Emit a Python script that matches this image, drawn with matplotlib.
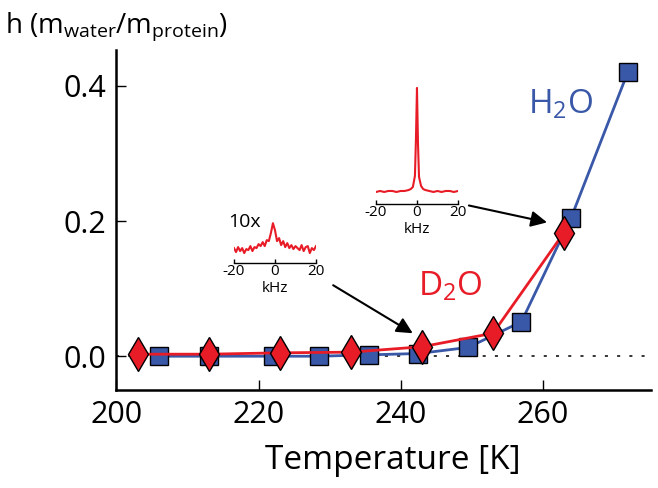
import numpy as np
import matplotlib
matplotlib.use("Agg")
import matplotlib.pyplot as plt

plt.rcParams['font.family'] = ['Open Sans', 'DejaVu Sans']
plt.rcParams['mathtext.fontset'] = 'custom'
plt.rcParams['mathtext.rm'] = 'Open Sans'
plt.rcParams['mathtext.it'] = 'Open Sans'
plt.rcParams['mathtext.default'] = 'regular'
plt.rcParams['axes.unicode_minus'] = False

# hydration vs temperature
t_h2o = [206, 213, 222, 228.5, 235.5, 242.5, 249.5, 257, 264, 272]
h_h2o = [0.0, 0.0, 0.0, 0.0, 0.002, 0.004, 0.013, 0.051, 0.205, 0.421]
t_d2o = [203, 213, 223, 233, 243, 253, 263]
h_d2o = [0.003, 0.003, 0.005, 0.006, 0.014, 0.034, 0.183]

# inset spectra (kHz, arbitrary intensity)
khz_broad = list(range(-20, 21))
spec_broad = [15, 11, 16, 12, 15, 10, 14, 13, 17, 12, 16, 15, 19, 17, 21, 17,
              23, 22, 30, 40, 33, 22, 25, 18, 22, 16, 20, 15, 18, 14, 17, 15,
              13, 18, 12, 16, 17, 10, 15, 13, 17]
khz_sharp = [-20, -18, -16, -14, -12, -10, -8, -6, -4, -3, -2, -1, -0.5, 0,
             0.5, 1, 2, 3, 4, 6, 8, 10, 12, 14, 16, 18, 20]
spec_sharp = [12, 13, 12, 13, 13, 12, 13, 13, 14, 15, 17, 28, 65, 116,
              60, 27, 18, 15, 14, 13, 12, 13, 12, 13, 13, 12, 13]

xticks = [200, 220, 240, 260]
yticks = [0.0, 0.2, 0.4]
inset_ticks = [-20, 0, 20]

blue = '#3a58a8'
red = '#e81c27'

fig = plt.figure(figsize=(6.58, 4.88), dpi=100)
ax = fig.add_axes([0.177, 0.2008, 0.812, 0.6967])

ax.axhline(0, color='black', lw=1.1, ls=(0, (2, 6)), zorder=1)
ax.plot(t_h2o, h_h2o, color=blue, lw=2, marker='s', ms=12.5,
        mfc=blue, mec='black', mew=1, zorder=3, clip_on=False)
ax.plot(t_d2o, h_d2o, color=red, lw=2, marker='d', ms=17,
        mfc=red, mec='black', mew=1, zorder=4, clip_on=False)

ax.set_xlim(200, 275.2)
ax.set_ylim(-0.05, 0.453)
ax.set_xticks(xticks)
ax.set_yticks(yticks)
ax.set_yticklabels(['%.1f' % v for v in yticks])
for s in ['top', 'right']:
    ax.spines[s].set_visible(False)
for s in ['left', 'bottom']:
    ax.spines[s].set_linewidth(1.8)
ax.tick_params(direction='in', length=7.5, width=1, labelsize=22, pad=7)
ax.set_xlabel('Temperature [K]', fontsize=24)
ax.xaxis.set_label_coords(0.518, -0.16)

fig.text(0.008, 0.934, 'h (m$_{water}$/m$_{protein}$)', fontsize=20,
         ha='left', va='baseline')
fig.text(0.802, 0.768, 'H$_2$O', fontsize=24, color=blue, ha='left', va='baseline')
fig.text(0.635, 0.395, 'D$_2$O', fontsize=24, color=red, ha='left', va='baseline')

# arrows from insets
arrow = dict(arrowstyle='-|>', color='black', lw=1.5, mutation_scale=24,
             shrinkA=0, shrinkB=0)
ax.annotate('', xy=(241.7, 0.034), xytext=(230.5, 0.105), arrowprops=arrow)
ax.annotate('', xy=(260.6, 0.198), xytext=(249.6, 0.223), arrowprops=arrow)


def inset(rect, x, y, ymax):
    a = fig.add_axes(rect)
    a.plot(x, y, color=red, lw=1.5)
    a.set_xlim(-20, 20)
    a.set_ylim(0, ymax)
    for s in ['top', 'right', 'left']:
        a.spines[s].set_visible(False)
    a.spines['bottom'].set_linewidth(1)
    a.set_yticks([])
    a.set_xticks(inset_ticks)
    a.tick_params(direction='in', length=3, width=1, labelsize=11, pad=1)
    a.set_xlabel('kHz', fontsize=11, labelpad=1)
    a.patch.set_alpha(0)
    return a


a1 = inset([0.3556, 0.461, 0.1246, 0.098], khz_broad, spec_broad, 48)
a1.text(-23, 36, '10x', fontsize=14, ha='left', va='baseline')
a2 = inset([0.5714, 0.582, 0.1246, 0.246], khz_sharp, spec_sharp, 120)

fig.savefig('out.png', dpi=100)
